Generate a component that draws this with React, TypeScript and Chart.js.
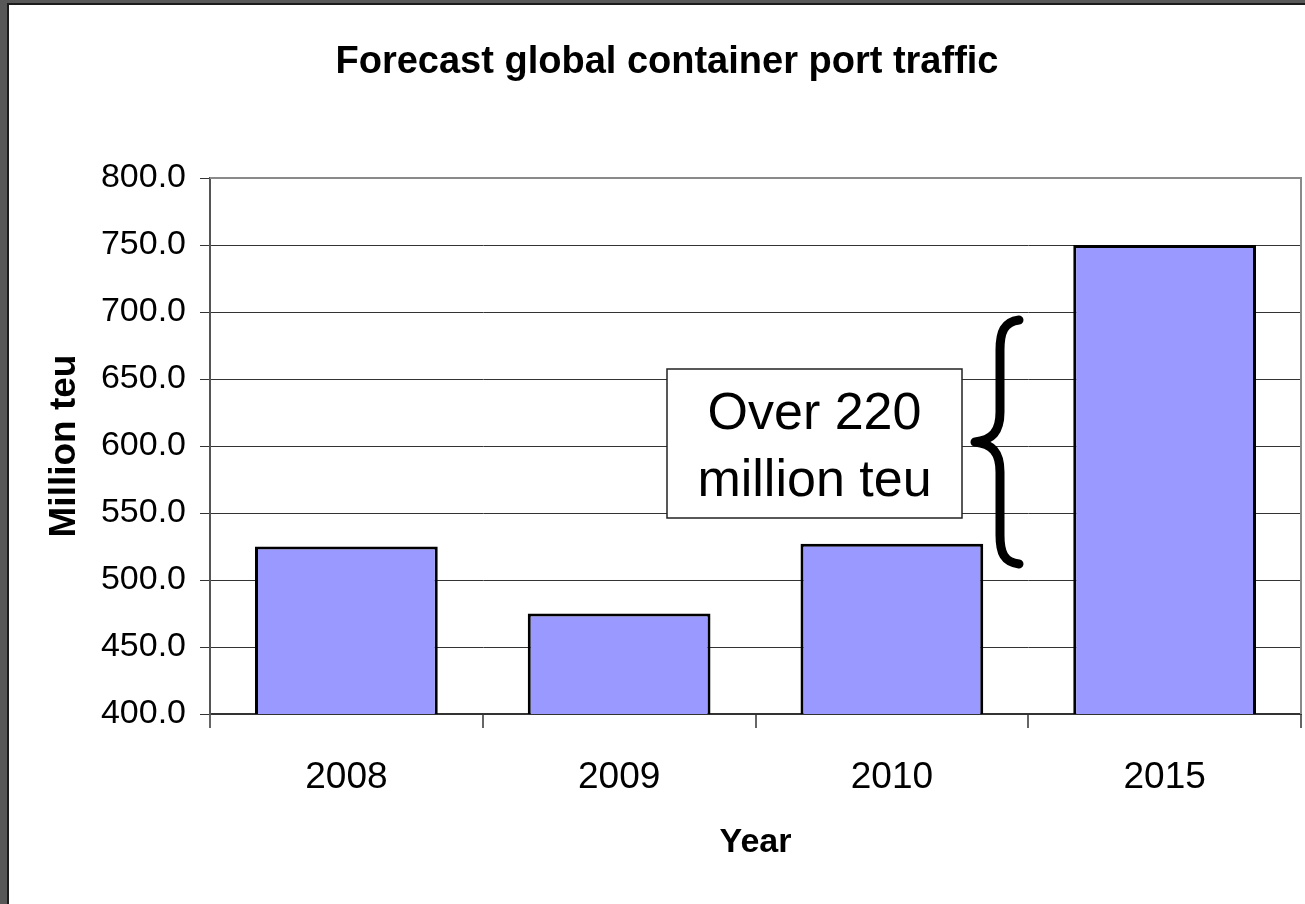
import React, { useEffect, useRef } from "react";
import { Chart, registerables } from "chart.js";

Chart.register(...registerables);

const categories = ["2008", "2009", "2010", "2015"];
const trafficValues = [525, 475, 527, 750];
const yTicks = [400, 450, 500, 550, 600, 650, 700, 750, 800];
const chartTitle = "Forecast global container port traffic";
const yTitle = "Million teu";
const xTitle = "Year";
const noteLines = ["Over 220", "million teu"];

const FONT = "'Liberation Sans', Arial, sans-serif";

const decorPlugin = {
  id: "decor",
  beforeDatasetsDraw(chart: any) {
    const { ctx, chartArea } = chart;
    ctx.save();
    ctx.strokeStyle = "#8a8a8a";
    ctx.lineWidth = 2;
    ctx.beginPath();
    ctx.moveTo(chartArea.left, chartArea.top);
    ctx.lineTo(chartArea.right, chartArea.top);
    ctx.lineTo(chartArea.right, chartArea.bottom);
    ctx.stroke();
    ctx.restore();
  },
  afterDraw(chart: any) {
    const { ctx } = chart;
    ctx.save();
    // chart title
    ctx.fillStyle = "#000";
    ctx.font = `bold 38px ${FONT}`;
    ctx.textAlign = "center";
    ctx.textBaseline = "middle";
    ctx.fillText(chartTitle, 667, 63);

    // annotation box
    ctx.fillStyle = "#fff";
    ctx.fillRect(667, 369, 295, 149);
    ctx.strokeStyle = "#222";
    ctx.lineWidth = 1.5;
    ctx.strokeRect(667, 369, 295, 149);
    ctx.fillStyle = "#000";
    ctx.font = `52px ${FONT}`;
    ctx.fillText(noteLines[0], 814.5, 415);
    ctx.fillText(noteLines[1], 814.5, 482);

    // brace
    ctx.strokeStyle = "#000";
    ctx.lineWidth = 9;
    ctx.lineCap = "round";
    ctx.lineJoin = "round";
    ctx.beginPath();
    ctx.moveTo(1019, 320);
    ctx.bezierCurveTo(1004, 322, 1000, 332, 1000, 350);
    ctx.lineTo(1000, 412);
    ctx.bezierCurveTo(1000, 432, 992, 440, 975, 442);
    ctx.bezierCurveTo(992, 444, 1000, 452, 1000, 472);
    ctx.lineTo(1000, 535);
    ctx.bezierCurveTo(1000, 553, 1004, 562, 1019, 564);
    ctx.stroke();
    ctx.restore();
  },
};

export default function App() {
  const ref = useRef<HTMLCanvasElement | null>(null);

  useEffect(() => {
    if (!ref.current) return;
    const chart = new Chart(ref.current, {
      type: "bar",
      data: {
        labels: categories,
        datasets: [
          {
            label: "Million teu",
            data: trafficValues,
            backgroundColor: "#9999FF",
            borderColor: "#000",
            borderWidth: 3,
            barPercentage: 0.67,
            categoryPercentage: 1,
          },
        ],
      },
      options: {
        responsive: false,
        animation: false,
        layout: { padding: { top: 178, right: 4, left: 0, bottom: 0 } },
        plugins: {
          legend: { display: false },
          title: { display: false },
          tooltip: { enabled: false },
        },
        scales: {
          x: {
            grid: {
              drawOnChartArea: false,
              drawTicks: true,
              tickLength: 14,
              color: "#666",
              lineWidth: 2,
              offset: true,
            },
            border: { color: "#333", width: 2 },
            ticks: {
              color: "#000",
              font: { family: FONT, size: 37 },
              padding: 28,
            },
            title: {
              display: true,
              text: xTitle,
              color: "#000",
              font: { family: FONT, size: 34, weight: "bold" },
              padding: { top: 0, bottom: 41 },
            },
            afterFit(scale: any) {
              scale.height = 190;
            },
          },
          y: {
            min: 400,
            max: 800,
            afterBuildTicks(scale: any) {
              scale.ticks = yTicks.map((v) => ({ value: v }));
            },
            grid: {
              color: "#333",
              lineWidth: 1,
              tickLength: 10,
              tickColor: "#333",
            },
            border: { color: "#555", width: 2 },
            ticks: {
              color: "#000",
              font: { family: FONT, size: 34 },
              padding: 14,
              callback: (v: any) => Number(v).toFixed(1),
            },
            title: {
              display: true,
              text: yTitle,
              color: "#000",
              font: { family: FONT, size: 37, weight: "bold" },
              padding: { top: 43, bottom: 0 },
            },
            afterFit(scale: any) {
              scale.width = 210;
            },
          },
        },
      },
      plugins: [decorPlugin],
    });
    return () => chart.destroy();
  }, []);

  return (
    <div style={{ position: "fixed", left: 0, top: 0, width: 1305, height: 904, background: "#585858", overflow: "hidden" }}>
      <div
        style={{
          position: "absolute",
          left: 7,
          top: 3,
          width: 1320,
          height: 920,
          background: "#fff",
          borderLeft: "2px solid #1c1c1c",
          borderTop: "2px solid #1c1c1c",
        }}
      />
      <canvas ref={ref} width={1305} height={904} style={{ position: "absolute", left: 0, top: 0, width: 1305, height: 904 }} />
    </div>
  );
}
